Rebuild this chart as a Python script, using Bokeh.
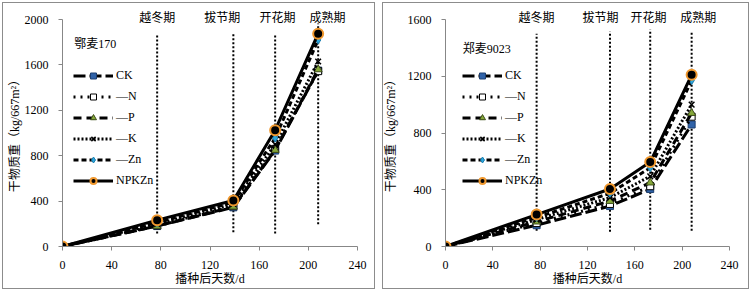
from bokeh.plotting import figure
from bokeh.models import (Legend, LegendItem, Label, FixedTicker, Range1d, Spacer,
                          LinearAxis)
from bokeh.layouts import row
from bokeh.embed import file_html
from bokeh.resources import INLINE

# ---------------- data ----------------
days = [0, 77, 139, 173, 208]
stage_days = [77, 139, 173, 208]
stage_names = ["越冬期", "拔节期", "开花期", "成熟期"]
series_names = ["CK", "N", "P", "K", "Zn", "NPKZn"]
legend_labels = ["CK", "—N", "—P", "—K", "—Zn", "NPKZn"]
x_ticks = [0, 40, 80, 120, 160, 200, 240]

# 鄂麦170
e170_CK = [0, 180, 345, 845, 1550]
e170_N = [0, 185, 355, 860, 1545]
e170_P = [0, 180, 350, 850, 1560]
e170_K = [0, 200, 375, 900, 1630]
e170_Zn = [0, 210, 390, 955, 1820]
e170_NPKZn = [0, 232, 405, 1025, 1875]
e170_y_ticks = [0, 400, 800, 1200, 1600, 2000]
e170_stage_low = [115, 125, 115, 195]
e170_stage_high = [1875, 1885, 1875, 1965]

# 郑麦9023
z9023_CK = [0, 150, 285, 405, 860]
z9023_N = [0, 165, 300, 425, 915]
z9023_P = [0, 175, 320, 450, 940]
z9023_K = [0, 190, 345, 495, 1000]
z9023_Zn = [0, 205, 375, 555, 1170]
z9023_NPKZn = [0, 225, 405, 595, 1210]
z9023_y_ticks = [0, 400, 800, 1200, 1600]
z9023_stage_low = [111, 104, 118, 111]
z9023_stage_high = [1500, 1515, 1530, 1520]

# ---------------- styles ----------------
FONT = "'Liberation Serif', 'Noto Sans CJK SC', serif"
FS = "12px"
styles = {
    "CK": dict(dash="12 4", marker="square", fill="#2f62a8", mline="#1d3f70", size=7),
    "N": dict(dash="2 5", marker="square", fill="white", mline="black", size=7),
    "P": dict(dash="8 5", marker="triangle", fill="#86a83a", mline="#3d4d1a", size=8),
    "K": dict(dash="2 2", marker="x", fill="black", mline="black", size=8),
    "Zn": dict(dash="5 3", marker="diamond", fill="#2ea6dc", mline="#1a7fb0", size=8),
    "NPKZn": dict(dash="solid", marker="circle", fill="black", mline="#f0982e", size=10),
}

BOX_CSS = ":host { outline: 1px solid #8c8c8c; outline-offset: -3px; }"


def make_panel(values, y_end, y_ticks, title, stage_low, stage_high,
               width, height, bl, br, bt, bb, leg_dx, title_dx, title_dy,
               stage_label_x, ylabel_standoff):
    p = figure(width=width, height=height, output_backend="svg", toolbar_location=None,
               x_range=Range1d(0, 240), y_range=Range1d(0, y_end),
               min_border_left=bl, min_border_right=br, min_border_top=bt,
               min_border_bottom=bb, stylesheets=[BOX_CSS])
    p.outline_line_color = None
    p.xgrid.visible = False
    p.ygrid.visible = False
    p.background_fill_color = "white"
    p.border_fill_alpha = 0

    for ax in (p.xaxis[0], p.yaxis[0]):
        ax.axis_line_color = "#878787"
        ax.major_tick_line_color = "#878787"
        ax.major_tick_out = 4
        ax.major_tick_in = 0
        ax.minor_tick_line_color = None
        ax.major_label_text_font = FONT
        ax.major_label_text_font_size = FS
        ax.major_label_text_color = "black"
        ax.axis_label_text_font = FONT
        ax.axis_label_text_font_size = FS
        ax.axis_label_text_font_style = "normal"
        ax.axis_label_text_color = "black"
    p.xaxis[0].ticker = FixedTicker(ticks=x_ticks)
    p.yaxis[0].ticker = FixedTicker(ticks=y_ticks)
    p.xaxis[0].major_label_standoff = 10
    p.yaxis[0].major_label_standoff = 10
    p.xaxis[0].axis_label = "播种后天数/d"
    p.xaxis[0].axis_label_standoff = 0
    p.yaxis[0].axis_label = "干物质重（kg/667m²）"
    p.yaxis[0].axis_label_standoff = ylabel_standoff

    # stage names as labels of an axis above the frame
    top = LinearAxis(ticker=FixedTicker(ticks=stage_label_x),
                     major_label_overrides={sx: nm for sx, nm in zip(stage_label_x, stage_names)},
                     axis_line_color=None, major_tick_line_color=None,
                     minor_tick_line_color=None, major_tick_out=0, major_tick_in=0,
                     major_label_standoff=-5, major_label_text_font=FONT,
                     major_label_text_font_size=FS, major_label_text_color="black")
    p.add_layout(top, "above")

    # stage dotted lines
    p.segment(x0=stage_days, y0=stage_low, x1=stage_days, y1=stage_high,
              line_color="black", line_width=2, line_dash="2 2")

    items = []
    for sname, lab in zip(series_names, legend_labels):
        st = styles[sname]
        ys = values[sname]
        lr = p.line(days, ys, line_color="black", line_width=3, line_dash=st["dash"])
        if st["marker"] == "x":
            mr = p.scatter(days, ys, marker="x", size=st["size"], line_color="black",
                           line_width=1.5)
        else:
            mr = p.scatter(days, ys, marker=st["marker"], size=st["size"],
                           fill_color=st["fill"], line_color=st["mline"],
                           line_width=2 if sname == "NPKZn" else 1)
        items.append(LegendItem(label=lab, renderers=[lr, mr]))

    legend = Legend(items=items, location=(leg_dx, 58), padding=0, margin=0,
                    spacing=6, glyph_width=40, glyph_height=15, label_height=15,
                    label_standoff=3, background_fill_alpha=0, border_line_color=None,
                    label_text_font=FONT, label_text_font_size=FS,
                    label_text_color="black")
    p.add_layout(legend, "center")

    p.add_layout(Label(x=title_dx, y=title_dy, text=title, text_align="left",
                       text_baseline="middle", text_font=FONT, text_font_size=FS,
                       text_color="black"))
    return p


vals_left = {"CK": e170_CK, "N": e170_N, "P": e170_P, "K": e170_K,
             "Zn": e170_Zn, "NPKZn": e170_NPKZn}
vals_right = {"CK": z9023_CK, "N": z9023_N, "P": z9023_P, "K": z9023_K,
              "Zn": z9023_Zn, "NPKZn": z9023_NPKZn}

p1 = make_panel(vals_left, 2000, e170_y_ticks, "鄂麦170", e170_stage_low, e170_stage_high,
                377, 291, 62, 20, 19, 45, 11, 9.5, 1780,
                [77, 130, 175, 215.5], 0)
p2 = make_panel(vals_right, 1600, z9023_y_ticks, "郑麦9023", z9023_stage_low, z9023_stage_high,
                371, 291, 61, 22, 19, 45, 17, 14.5, 1395,
                [77, 131, 171.5, 213.5], 7)

layout = row(p1, Spacer(width=3, height=291), p2)
open("out.html", "w").write(file_html(layout, INLINE))
